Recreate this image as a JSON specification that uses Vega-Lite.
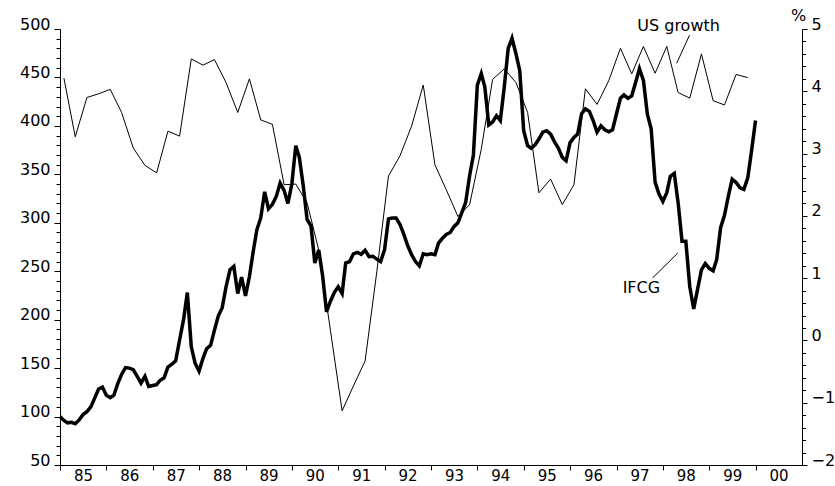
{
  "$schema": "https://vega.github.io/schema/vega-lite/v6.json",
  "width": 742,
  "height": 436,
  "autosize": {"type": "none"},
  "padding": {"left": 60, "top": 29, "right": 33, "bottom": 21},
  "background": "white",
  "config": {
    "view": {"stroke": null},
    "axis": {"grid": false, "domainColor": "black", "tickColor": "black", "labelColor": "black", "labelFont": "DejaVu Sans", "labelFontSize": 16, "domainWidth": 1, "tickWidth": 1, "titleColor": "black"}
  },
  "datasets": {
    "ifcg": [
      {"date": "1985-01-01", "value": 100}, {"date": "1985-02-01", "value": 96}, {"date": "1985-03-01", "value": 93.5}, {"date": "1985-04-01", "value": 94}, {"date": "1985-05-01", "value": 92.5}, {"date": "1985-06-01", "value": 96.5}, {"date": "1985-07-01", "value": 102}, {"date": "1985-08-01", "value": 105}, {"date": "1985-09-01", "value": 110}, {"date": "1985-10-01", "value": 119}, {"date": "1985-11-01", "value": 128.5}, {"date": "1985-12-01", "value": 130.5},
      {"date": "1986-01-01", "value": 122}, {"date": "1986-02-01", "value": 119.5}, {"date": "1986-03-01", "value": 122}, {"date": "1986-04-01", "value": 134}, {"date": "1986-05-01", "value": 143.5}, {"date": "1986-06-01", "value": 150.5}, {"date": "1986-07-01", "value": 150}, {"date": "1986-08-01", "value": 148.5}, {"date": "1986-09-01", "value": 141.5}, {"date": "1986-10-01", "value": 134.5}, {"date": "1986-11-01", "value": 141.5}, {"date": "1986-12-01", "value": 131},
      {"date": "1987-01-01", "value": 132}, {"date": "1987-02-01", "value": 133}, {"date": "1987-03-01", "value": 137.5}, {"date": "1987-04-01", "value": 140}, {"date": "1987-05-01", "value": 151}, {"date": "1987-06-01", "value": 154}, {"date": "1987-07-01", "value": 157.5}, {"date": "1987-08-01", "value": 179}, {"date": "1987-09-01", "value": 200}, {"date": "1987-10-01", "value": 228}, {"date": "1987-11-01", "value": 172}, {"date": "1987-12-01", "value": 155},
      {"date": "1988-01-01", "value": 147}, {"date": "1988-02-01", "value": 160}, {"date": "1988-03-01", "value": 170}, {"date": "1988-04-01", "value": 173.5}, {"date": "1988-05-01", "value": 189}, {"date": "1988-06-01", "value": 204}, {"date": "1988-07-01", "value": 212}, {"date": "1988-08-01", "value": 234}, {"date": "1988-09-01", "value": 251.5}, {"date": "1988-10-01", "value": 255}, {"date": "1988-11-01", "value": 227}, {"date": "1988-12-01", "value": 244},
      {"date": "1989-01-01", "value": 224.5}, {"date": "1989-02-01", "value": 244.5}, {"date": "1989-03-01", "value": 269}, {"date": "1989-04-01", "value": 293}, {"date": "1989-05-01", "value": 305}, {"date": "1989-06-01", "value": 332}, {"date": "1989-07-01", "value": 314.5}, {"date": "1989-08-01", "value": 319}, {"date": "1989-09-01", "value": 327.5}, {"date": "1989-10-01", "value": 341}, {"date": "1989-11-01", "value": 333.5}, {"date": "1989-12-01", "value": 320},
      {"date": "1990-01-01", "value": 340}, {"date": "1990-02-01", "value": 379.5}, {"date": "1990-03-01", "value": 367.5}, {"date": "1990-04-01", "value": 338}, {"date": "1990-05-01", "value": 303.5}, {"date": "1990-06-01", "value": 296.5}, {"date": "1990-07-01", "value": 258.5}, {"date": "1990-08-01", "value": 272}, {"date": "1990-09-01", "value": 244.5}, {"date": "1990-10-01", "value": 208}, {"date": "1990-11-01", "value": 219}, {"date": "1990-12-01", "value": 228},
      {"date": "1991-01-01", "value": 234}, {"date": "1991-02-01", "value": 227}, {"date": "1991-03-01", "value": 258.5}, {"date": "1991-04-01", "value": 260}, {"date": "1991-05-01", "value": 268}, {"date": "1991-06-01", "value": 269.5}, {"date": "1991-07-01", "value": 267.5}, {"date": "1991-08-01", "value": 271.5}, {"date": "1991-09-01", "value": 265}, {"date": "1991-10-01", "value": 265.5}, {"date": "1991-11-01", "value": 262.5}, {"date": "1991-12-01", "value": 260},
      {"date": "1992-01-01", "value": 272}, {"date": "1992-02-01", "value": 304}, {"date": "1992-03-01", "value": 305}, {"date": "1992-04-01", "value": 305}, {"date": "1992-05-01", "value": 298.5}, {"date": "1992-06-01", "value": 288}, {"date": "1992-07-01", "value": 276.5}, {"date": "1992-08-01", "value": 267}, {"date": "1992-09-01", "value": 260}, {"date": "1992-10-01", "value": 255.5}, {"date": "1992-11-01", "value": 268}, {"date": "1992-12-01", "value": 267},
      {"date": "1993-01-01", "value": 268}, {"date": "1993-02-01", "value": 267}, {"date": "1993-03-01", "value": 279}, {"date": "1993-04-01", "value": 284}, {"date": "1993-05-01", "value": 288}, {"date": "1993-06-01", "value": 290}, {"date": "1993-07-01", "value": 296}, {"date": "1993-08-01", "value": 300}, {"date": "1993-09-01", "value": 310.5}, {"date": "1993-10-01", "value": 321}, {"date": "1993-11-01", "value": 348.5}, {"date": "1993-12-01", "value": 370},
      {"date": "1994-01-01", "value": 442}, {"date": "1994-02-01", "value": 454}, {"date": "1994-03-01", "value": 440}, {"date": "1994-04-01", "value": 401}, {"date": "1994-05-01", "value": 404}, {"date": "1994-06-01", "value": 410.5}, {"date": "1994-07-01", "value": 405.5}, {"date": "1994-08-01", "value": 440}, {"date": "1994-09-01", "value": 480}, {"date": "1994-10-01", "value": 490.5}, {"date": "1994-11-01", "value": 474.5}, {"date": "1994-12-01", "value": 457},
      {"date": "1995-01-01", "value": 395}, {"date": "1995-02-01", "value": 379.5}, {"date": "1995-03-01", "value": 377}, {"date": "1995-04-01", "value": 380.5}, {"date": "1995-05-01", "value": 386.5}, {"date": "1995-06-01", "value": 393.5}, {"date": "1995-07-01", "value": 395}, {"date": "1995-08-01", "value": 391.5}, {"date": "1995-09-01", "value": 383.5}, {"date": "1995-10-01", "value": 377}, {"date": "1995-11-01", "value": 367.5}, {"date": "1995-12-01", "value": 364},
      {"date": "1996-01-01", "value": 382.5}, {"date": "1996-02-01", "value": 388}, {"date": "1996-03-01", "value": 391.5}, {"date": "1996-04-01", "value": 412.5}, {"date": "1996-05-01", "value": 417.5}, {"date": "1996-06-01", "value": 415}, {"date": "1996-07-01", "value": 405.5}, {"date": "1996-08-01", "value": 393.5}, {"date": "1996-09-01", "value": 400}, {"date": "1996-10-01", "value": 396}, {"date": "1996-11-01", "value": 394}, {"date": "1996-12-01", "value": 396},
      {"date": "1997-01-01", "value": 412.5}, {"date": "1997-02-01", "value": 428.5}, {"date": "1997-03-01", "value": 432}, {"date": "1997-04-01", "value": 428.5}, {"date": "1997-05-01", "value": 431}, {"date": "1997-06-01", "value": 445}, {"date": "1997-07-01", "value": 459}, {"date": "1997-08-01", "value": 447}, {"date": "1997-09-01", "value": 412}, {"date": "1997-10-01", "value": 397}, {"date": "1997-11-01", "value": 342}, {"date": "1997-12-01", "value": 330},
      {"date": "1998-01-01", "value": 322}, {"date": "1998-02-01", "value": 331}, {"date": "1998-03-01", "value": 348}, {"date": "1998-04-01", "value": 351}, {"date": "1998-05-01", "value": 321}, {"date": "1998-06-01", "value": 281}, {"date": "1998-07-01", "value": 281}, {"date": "1998-08-01", "value": 234}, {"date": "1998-09-01", "value": 211}, {"date": "1998-10-01", "value": 231}, {"date": "1998-11-01", "value": 251.5}, {"date": "1998-12-01", "value": 258},
      {"date": "1999-01-01", "value": 253}, {"date": "1999-02-01", "value": 250.5}, {"date": "1999-03-01", "value": 262}, {"date": "1999-04-01", "value": 295}, {"date": "1999-05-01", "value": 307.5}, {"date": "1999-06-01", "value": 327.5}, {"date": "1999-07-01", "value": 345}, {"date": "1999-08-01", "value": 341.5}, {"date": "1999-09-01", "value": 336}, {"date": "1999-10-01", "value": 334.5}, {"date": "1999-11-01", "value": 346.5}, {"date": "1999-12-01", "value": 374.5},
      {"date": "2000-01-01", "value": 405.5}
    ],
    "us": [
      {"date": "1985-02-01", "growth": 4.21}, {"date": "1985-05-01", "growth": 3.27}, {"date": "1985-08-01", "growth": 3.90}, {"date": "1985-11-01", "growth": 3.96},
      {"date": "1986-02-01", "growth": 4.03}, {"date": "1986-05-01", "growth": 3.66}, {"date": "1986-08-01", "growth": 3.09}, {"date": "1986-11-01", "growth": 2.81},
      {"date": "1987-02-01", "growth": 2.69}, {"date": "1987-05-01", "growth": 3.36}, {"date": "1987-08-01", "growth": 3.28}, {"date": "1987-11-01", "growth": 4.52},
      {"date": "1988-02-01", "growth": 4.42}, {"date": "1988-05-01", "growth": 4.51}, {"date": "1988-08-01", "growth": 4.14}, {"date": "1988-11-01", "growth": 3.66},
      {"date": "1989-02-01", "growth": 4.20}, {"date": "1989-05-01", "growth": 3.54}, {"date": "1989-08-01", "growth": 3.47}, {"date": "1989-11-01", "growth": 2.50},
      {"date": "1990-02-01", "growth": 2.51}, {"date": "1990-05-01", "growth": 2.21}, {"date": "1990-08-01", "growth": 1.45}, {"date": "1990-11-01", "growth": 0.16},
      {"date": "1991-02-01", "growth": -1.13}, {"date": "1991-05-01", "growth": -0.73}, {"date": "1991-08-01", "growth": -0.33}, {"date": "1991-11-01", "growth": 1.1},
      {"date": "1992-02-01", "growth": 2.64}, {"date": "1992-05-01", "growth": 2.96}, {"date": "1992-08-01", "growth": 3.44}, {"date": "1992-11-01", "growth": 4.10},
      {"date": "1993-02-01", "growth": 2.82}, {"date": "1993-05-01", "growth": 2.42}, {"date": "1993-08-01", "growth": 1.99}, {"date": "1993-11-01", "growth": 2.18},
      {"date": "1994-02-01", "growth": 3.07}, {"date": "1994-05-01", "growth": 4.19}, {"date": "1994-08-01", "growth": 4.36}, {"date": "1994-11-01", "growth": 4.14},
      {"date": "1995-02-01", "growth": 3.66}, {"date": "1995-05-01", "growth": 2.37}, {"date": "1995-08-01", "growth": 2.59}, {"date": "1995-11-01", "growth": 2.18},
      {"date": "1996-02-01", "growth": 2.50}, {"date": "1996-05-01", "growth": 4.04}, {"date": "1996-08-01", "growth": 3.79}, {"date": "1996-11-01", "growth": 4.17},
      {"date": "1997-02-01", "growth": 4.69}, {"date": "1997-05-01", "growth": 4.28}, {"date": "1997-08-01", "growth": 4.72}, {"date": "1997-11-01", "growth": 4.29},
      {"date": "1998-02-01", "growth": 4.72}, {"date": "1998-05-01", "growth": 3.98}, {"date": "1998-08-01", "growth": 3.89}, {"date": "1998-11-01", "growth": 4.60},
      {"date": "1999-02-01", "growth": 3.85}, {"date": "1999-05-01", "growth": 3.78}, {"date": "1999-08-01", "growth": 4.27}, {"date": "1999-11-01", "growth": 4.22}
    ],
    "usLabel": [{"date": "1998-05-05", "growth": 4.97, "label": "US growth"}],
    "usLeader": [{"date": "1998-07-30", "date2": "1998-04-20", "growth": 4.90, "growth2": 4.45}],
    "ifcgLabel": [{"date": "1997-07-16", "value": 227.5, "label": "IFCG"}],
    "ifcgLeader": [{"date": "1997-10-12", "date2": "1998-04-29", "value": 243, "value2": 268.8}]
  },
  "encoding": {
    "x": {
      "field": "date", "type": "temporal",
      "scale": {"type": "utc", "domain": [{"year": 1985, "month": 1, "date": 1, "utc": true}, {"year": 2001, "month": 1, "date": 1, "utc": true}]},
      "axis": {
        "title": null, "orient": "bottom",
        "values": [{"year": 1985, "utc": true}, {"year": 1986, "utc": true}, {"year": 1987, "utc": true}, {"year": 1988, "utc": true}, {"year": 1989, "utc": true}, {"year": 1990, "utc": true}, {"year": 1991, "utc": true}, {"year": 1992, "utc": true}, {"year": 1993, "utc": true}, {"year": 1994, "utc": true}, {"year": 1995, "utc": true}, {"year": 1996, "utc": true}, {"year": 1997, "utc": true}, {"year": 1998, "utc": true}, {"year": 1999, "utc": true}, {"year": 2000, "utc": true}],
        "labelExpr": "utcFormat(datum.value, '%y')",
        "labelOffset": 23, "tickSize": 5, "labelPadding": -2, "labelFontSize": 15, "labelFlush": false, "labelOverlap": false
      }
    }
  },
  "layer": [
    {
      "data": {"name": "ifcg"},
      "mark": {"type": "line", "color": "black", "strokeWidth": 3.5, "strokeJoin": "miter", "strokeMiterLimit": 4},
      "encoding": {
        "y": {"field": "value", "type": "quantitative",
          "scale": {"domain": [50, 500], "nice": false, "zero": false},
          "axis": {"title": null, "orient": "left", "values": [50, 100, 150, 200, 250, 300, 350, 400, 450, 500], "tickSize": 6, "labelPadding": 4, "labelBaseline": "alphabetic"}}
      }
    },
    {
      "data": {"name": "ifcg"},
      "mark": {"type": "line", "color": "black", "strokeOpacity": 0},
      "encoding": {
        "y": {"field": "value", "type": "quantitative",
          "scale": {"domain": [50, 500], "nice": false, "zero": false},
          "axis": {"title": null, "orient": "left", "values": [60, 70, 80, 90, 110, 120, 130, 140, 160, 170, 180, 190, 210, 220, 230, 240, 260, 270, 280, 290, 310, 320, 330, 340, 360, 370, 380, 390, 410, 420, 430, 440, 460, 470, 480, 490], "tickSize": 4, "labels": false, "domain": false}}
      }
    },
    {
      "data": {"name": "us"},
      "mark": {"type": "line", "color": "black", "strokeWidth": 1},
      "encoding": {
        "y": {"field": "growth", "type": "quantitative",
          "scale": {"domain": [-2, 5], "nice": false, "zero": false},
          "axis": {"orient": "right", "values": [-2, -1, 0, 1, 2, 3, 4, 5], "tickSize": 5, "labelPadding": 4, "labelBaseline": "alphabetic",
            "title": "%", "titleAngle": 0, "titleFont": "DejaVu Sans", "titleFontSize": 16, "titleFontWeight": "normal", "titleAlign": "center", "titleBaseline": "alphabetic", "titleX": -4, "titleY": -9}}
      }
    },
    {
      "data": {"name": "us"},
      "mark": {"type": "line", "color": "black", "strokeOpacity": 0},
      "encoding": {
        "y": {"field": "growth", "type": "quantitative",
          "scale": {"domain": [-2, 5], "nice": false, "zero": false},
          "axis": {"title": null, "orient": "right", "values": [-1.8, -1.6, -1.4, -1.2, -0.8, -0.6, -0.4, -0.2, 0.2, 0.4, 0.6, 0.8, 1.2, 1.4, 1.6, 1.8, 2.2, 2.4, 2.6, 2.8, 3.2, 3.4, 3.6, 3.8, 4.2, 4.4, 4.6, 4.8], "tickSize": 3.5, "labels": false, "domain": false}}
      }
    },
    {
      "data": {"name": "usLabel"},
      "mark": {"type": "text", "font": "DejaVu Sans", "fontSize": 16, "color": "black", "align": "center", "baseline": "alphabetic"},
      "encoding": {
        "y": {"field": "growth", "type": "quantitative", "scale": {"domain": [-2, 5], "nice": false, "zero": false}, "axis": null},
        "text": {"field": "label"}
      }
    },
    {
      "data": {"name": "usLeader"},
      "mark": {"type": "rule", "color": "black", "strokeWidth": 1},
      "encoding": {
        "x2": {"field": "date2"},
        "y": {"field": "growth", "type": "quantitative", "scale": {"domain": [-2, 5], "nice": false, "zero": false}, "axis": null},
        "y2": {"field": "growth2"}
      }
    },
    {
      "data": {"name": "ifcgLabel"},
      "mark": {"type": "text", "font": "DejaVu Sans", "fontSize": 16, "color": "black", "align": "center", "baseline": "alphabetic"},
      "encoding": {
        "y": {"field": "value", "type": "quantitative", "scale": {"domain": [50, 500], "nice": false, "zero": false}, "axis": null},
        "text": {"field": "label"}
      }
    },
    {
      "data": {"name": "ifcgLeader"},
      "mark": {"type": "rule", "color": "black", "strokeWidth": 1},
      "encoding": {
        "x2": {"field": "date2"},
        "y": {"field": "value", "type": "quantitative", "scale": {"domain": [50, 500], "nice": false, "zero": false}, "axis": null},
        "y2": {"field": "value2"}
      }
    }
  ],
  "resolve": {"scale": {"y": "independent"}, "axis": {"y": "independent"}}
}
